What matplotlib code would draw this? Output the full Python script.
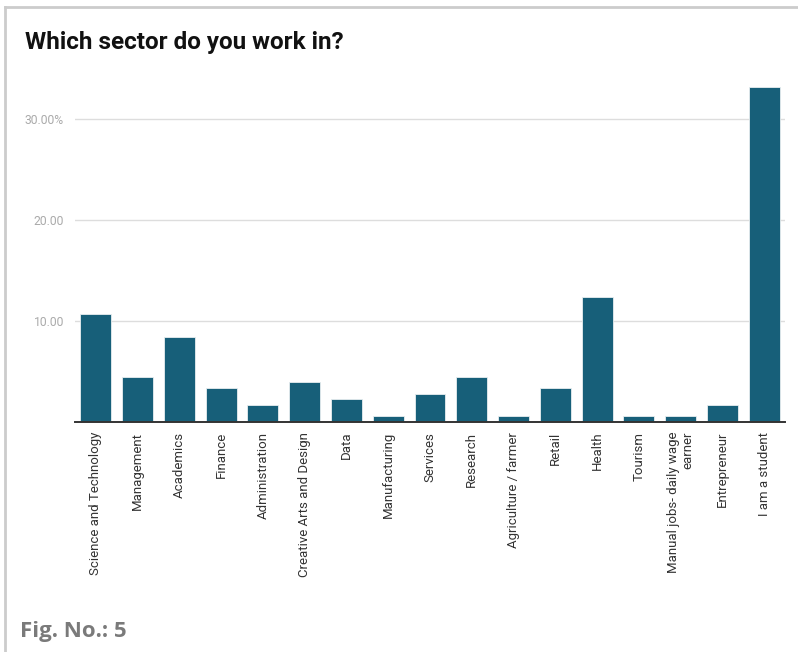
import matplotlib.pyplot as plt
from matplotlib.lines import Line2D

# survey answers, share of respondents in percent
sectors = ["Science and Technology", "Management", "Academics", "Finance",
           "Administration", "Creative Arts and Design", "Data", "Manufacturing",
           "Services", "Research", "Agriculture / farmer", "Retail", "Health",
           "Tourism", "Manual jobs- daily wage\nearner", "Entrepreneur",
           "I am a student"]
shares = [10.67, 4.49, 8.43, 3.37, 1.69, 3.93, 2.25, 0.56, 2.81, 4.49,
          0.56, 3.37, 12.36, 0.56, 0.56, 1.69, 33.15]
yticks = [10, 20, 30]
ytick_labels = ["10.00", "20.00", "30.00%"]

fig = plt.figure(figsize=(7.98, 6.52), dpi=100)
ax = fig.add_axes([0.094, 0.3528, 0.8897, 0.5422])

ax.bar(range(len(sectors)), shares, width=0.74, color="#175f79",
       edgecolor="#e8eef0", linewidth=0.6, zorder=3)

ax.set_xlim(-0.5, len(sectors) - 0.5)
ax.set_ylim(0, 35)
ax.set_yticks(yticks)
ax.set_yticklabels(ytick_labels, fontsize=8.7, color="#aaaaaa", family="Roboto")
ax.yaxis.grid(True, color="#dddddd", linewidth=1, zorder=0)
ax.tick_params(axis="y", length=0, pad=8)

ax.set_xticks(range(len(sectors)))
ax.set_xticklabels(sectors, rotation=90, fontsize=9.5, color="#333333",
                   family="Roboto", va="top", ha="center", multialignment="right")
ax.tick_params(axis="x", length=0, pad=7)

for side in ["left", "right", "top"]:
    ax.spines[side].set_visible(False)
ax.spines["bottom"].set_color("#333333")
ax.spines["bottom"].set_linewidth(1.4)
ax.spines["bottom"].set_zorder(4)

fig.text(25 / 798, 1 - 42 / 652, "Which sector do you work in?", fontsize=17.5,
         fontweight="bold", family="Roboto", color="#111111", va="center")
fig.text(20 / 798, 1 - 632 / 652, "Fig. No.: 5", fontsize=16,
         fontweight="bold", family="Open Sans", color="#7a7a7a", va="center")

# frame lines along top and left edge
fig.add_artist(Line2D([5 / 798, 1], [1 - 7 / 652, 1 - 7 / 652],
                      transform=fig.transFigure, color="#cccccc", linewidth=2))
fig.add_artist(Line2D([5 / 798, 5 / 798], [0, 1 - 7 / 652],
                      transform=fig.transFigure, color="#cccccc", linewidth=2))

fig.savefig("out.png", dpi=100)
